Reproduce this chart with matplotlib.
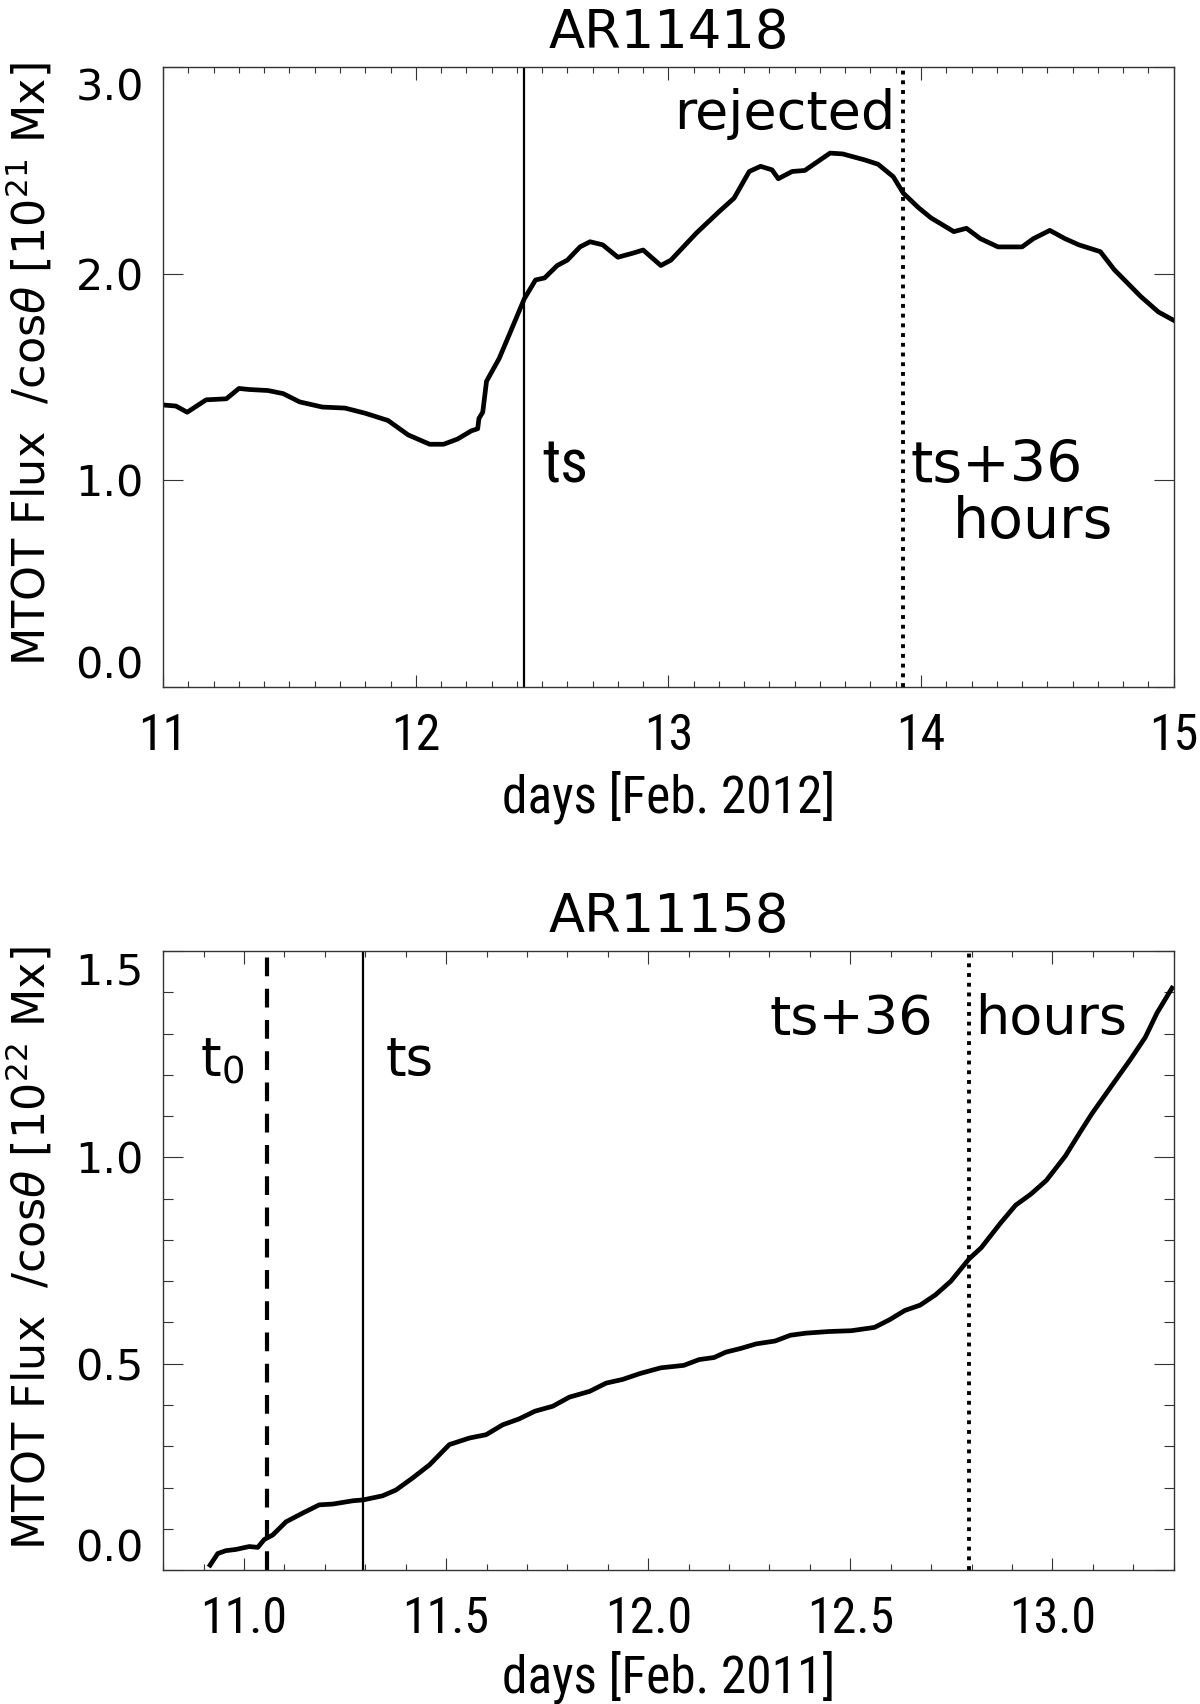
import numpy as np
import matplotlib
matplotlib.use('Agg')
import matplotlib.pyplot as plt

# AR11418, Feb. 2012
top_days = [11.00, 11.05, 11.095, 11.17, 11.25, 11.30, 11.34, 11.415, 11.475, 11.54,
            11.63, 11.72, 11.80, 11.89, 11.97, 12.055, 12.11, 12.165, 12.22, 12.245,
            12.25, 12.265, 12.28, 12.33, 12.375, 12.43, 12.474, 12.51, 12.56, 12.60,
            12.65, 12.69, 12.74, 12.80, 12.86, 12.90, 12.97, 13.01, 13.11, 13.20,
            13.26, 13.32, 13.365, 13.41, 13.435, 13.49, 13.54, 13.64, 13.69, 13.78,
            13.83, 13.89, 13.93, 13.99, 14.04, 14.13, 14.18, 14.235, 14.305, 14.40,
            14.445, 14.51, 14.57, 14.625, 14.71, 14.765, 14.87, 14.94, 15.00]
top_flux = [1.365, 1.36, 1.33, 1.39, 1.395, 1.445, 1.44, 1.435, 1.42, 1.38,
            1.355, 1.35, 1.325, 1.29, 1.22, 1.175, 1.175, 1.20, 1.24, 1.25,
            1.30, 1.33, 1.48, 1.59, 1.72, 1.88, 1.97, 1.98, 2.04, 2.066,
            2.13, 2.155, 2.14, 2.08, 2.10, 2.115, 2.04, 2.066, 2.196, 2.30,
            2.366, 2.495, 2.52, 2.503, 2.46, 2.495, 2.50, 2.584, 2.58, 2.55,
            2.53, 2.47, 2.39, 2.32, 2.27, 2.204, 2.22, 2.17, 2.13, 2.13,
            2.17, 2.21, 2.17, 2.14, 2.107, 2.02, 1.89, 1.815, 1.775]
top_ts = 12.43
top_ts36 = 13.93

# AR11158, Feb. 2011
bot_days = [10.916, 10.935, 10.955, 10.98, 11.013, 11.034, 11.05, 11.071, 11.104, 11.145,
            11.186, 11.22, 11.27, 11.295, 11.343, 11.376, 11.417, 11.459, 11.508, 11.558,
            11.599, 11.64, 11.68, 11.72, 11.764, 11.805, 11.855, 11.896, 11.937, 11.979,
            12.031, 12.088, 12.126, 12.163, 12.192, 12.229, 12.267, 12.314, 12.352, 12.39,
            12.447, 12.503, 12.56, 12.598, 12.635, 12.673, 12.711, 12.749, 12.794, 12.824,
            12.872, 12.909, 12.947, 12.985, 13.032, 13.07, 13.098, 13.145, 13.193, 13.23,
            13.259, 13.296]
bot_flux = [0.012, 0.040, 0.047, 0.050, 0.057, 0.055, 0.074, 0.085, 0.117, 0.138,
            0.158, 0.160, 0.168, 0.170, 0.180, 0.194, 0.223, 0.255, 0.304, 0.320,
            0.328, 0.352, 0.366, 0.385, 0.397, 0.419, 0.433, 0.453, 0.462, 0.476,
            0.490, 0.496, 0.510, 0.515, 0.528, 0.537, 0.548, 0.555, 0.569, 0.574,
            0.578, 0.580, 0.588, 0.607, 0.629, 0.642, 0.667, 0.700, 0.754, 0.781,
            0.841, 0.884, 0.911, 0.944, 1.003, 1.063, 1.106, 1.171, 1.237, 1.291,
            1.35, 1.41]
bot_t0 = 11.057
bot_ts = 11.295
bot_ts36 = 12.795

top_xticks = [11, 12, 13, 14, 15]
top_xlabels = ['11', '12', '13', '14', '15']
top_yticks = [0.0, 1.0, 2.0, 3.0]
bot_xticks = [11.0, 11.5, 12.0, 12.5, 13.0]
bot_xlabels = ['11.0', '11.5', '12.0', '12.5', '13.0']
bot_yticks = [0.0, 0.5, 1.0, 1.5]

WIDE = ['DejaVu Sans']
NARROW = ['Roboto Condensed', 'Liberation Sans Narrow', 'DejaVu Sans']

plt.rcParams['font.family'] = WIDE
plt.rcParams['mathtext.fontset'] = 'dejavusans'


def estilo_ejes(ax, xticks, xlabels, yticks, xminor, yminor):
    for s in ax.spines.values():
        s.set_linewidth(1.0)
        s.set_color('#333333')
    ax.set_xticks(xticks)
    ax.set_xticklabels(xlabels, family=NARROW, fontsize=36)
    ax.set_yticks(yticks)
    ax.set_yticklabels(['%.1f' % v for v in yticks], fontsize=31)
    if xminor is not None:
        ax.set_xticks(xminor, minor=True)
    if yminor is not None:
        ax.set_yticks(yminor, minor=True)
    ax.tick_params(axis='both', which='both', direction='in', top=True, right=True,
                   width=0.8, color='#333333')
    ax.tick_params(axis='x', which='major', length=9, pad=18)
    ax.tick_params(axis='x', which='minor', length=4.5)
    ax.tick_params(axis='y', which='major', length=14.5, pad=14)
    ax.tick_params(axis='y', which='minor', length=7)
    # primera y ultima etiqueta del eje y dentro del rango (estilo IDL)
    labs = ax.get_yticklabels()
    labs[0].set_verticalalignment('bottom')
    labs[-1].set_verticalalignment('top')


fig = plt.figure(figsize=(12, 17.04), dpi=100)

# ---- panel superior ----
ax1 = fig.add_axes([0.136, 0.5968, 0.842, 0.3638])
ax1.plot(top_days, top_flux, color='black', lw=3.4, solid_joinstyle='round')
ax1.axvline(top_ts, color='black', lw=1.6)
ax1.axvline(top_ts36, color='black', lw=2.8, linestyle=(0, (1, 1.5)))
ax1.set_xlim(11, 15)
ax1.set_ylim(0, 3.0)
estilo_ejes(ax1, top_xticks, top_xlabels, top_yticks,
            np.arange(11, 15.001, 0.1), None)
ax1.set_title('AR11418', fontsize=38, pad=14)
ax1.set_xlabel('days [Feb. 2012]', family=NARROW, fontsize=37)
ax1.xaxis.set_label_coords(0.5, -0.135)
ax1.set_ylabel(r'MTOT Flux  /cos$\theta$ [10$^{21}$ Mx]', fontsize=32)
ax1.yaxis.set_label_coords(-0.107, 0.52)

ax1.text(13.90, 2.70, 'rejected', fontsize=39, ha='right', va='baseline')
ax1.text(12.50, 0.99, 'ts', family=NARROW, fontsize=44, ha='left', va='baseline')
ax1.text(13.96, 0.99, 'ts+36', fontsize=41, ha='left', va='baseline')
ax1.text(14.125, 0.72, 'hours', fontsize=41, ha='left', va='baseline')

# ---- panel inferior ----
ax2 = fig.add_axes([0.136, 0.0786, 0.842, 0.3633])
ax2.plot(bot_days, bot_flux, color='black', lw=3.4, solid_joinstyle='round')
ax2.axvline(bot_t0, color='black', lw=3.0, linestyle=(0, (4.5, 3.0)))
ax2.axvline(bot_ts, color='black', lw=1.6)
ax2.axvline(bot_ts36, color='black', lw=2.8, linestyle=(0, (1, 1.5)))
ax2.set_xlim(10.8, 13.3)
ax2.set_ylim(0, 1.5)
estilo_ejes(ax2, bot_xticks, bot_xlabels, bot_yticks,
            np.arange(10.8, 13.301, 0.1), np.arange(0, 1.501, 0.1))
ax2.set_title('AR11158', fontsize=38, pad=14)
ax2.set_xlabel('days [Feb. 2011]', family=NARROW, fontsize=37)
ax2.xaxis.set_label_coords(0.5, -0.13)
ax2.set_ylabel(r'MTOT Flux  /cos$\theta$ [10$^{22}$ Mx]', fontsize=32)
ax2.yaxis.set_label_coords(-0.107, 0.52)

ax2.text(10.89, 1.198, r't$_0$', fontsize=38, ha='left', va='baseline')
ax2.text(11.35, 1.198, 'ts', fontsize=38, ha='left', va='baseline')
ax2.text(12.30, 1.30, 'ts+36', fontsize=39, ha='left', va='baseline')
ax2.text(12.81, 1.30, 'hours', fontsize=39, ha='left', va='baseline')

fig.savefig('out.png', dpi=100)
